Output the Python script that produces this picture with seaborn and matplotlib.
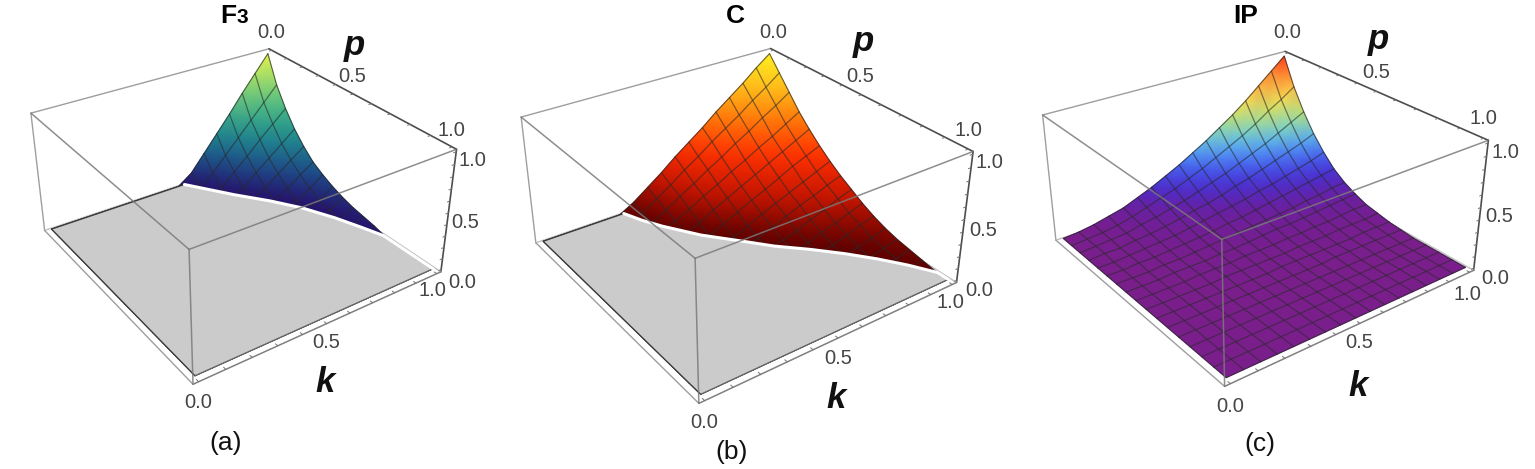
import numpy as np
import matplotlib
matplotlib.use('Agg')
import matplotlib.pyplot as plt
import seaborn as sns
from mpl_toolkits.mplot3d import proj3d

# mesh nodes, 16 cells per axis as in the reference
K_GRID = [i/16 for i in range(17)]
P_GRID = [i/16 for i in range(17)]
TICKS = [0, .1, .2, .3, .4, .5, .6, .7, .8, .9, 1]
LO, HI = -0.02, 1.02   # plot range padding

# heights, in hundredths; rows are p, columns are k
F3_Z = [
    [0, 0, 0, 0, 0, 0, 0, 0, 0, 0, 9, 24, 39, 54, 70, 85, 100],
    [0, 0, 0, 0, 0, 0, 0, 0, 0, 0, 0, 11, 24, 37, 50, 63, 76],
    [0, 0, 0, 0, 0, 0, 0, 0, 0, 0, 0, 3, 14, 25, 37, 48, 59],
    [0, 0, 0, 0, 0, 0, 0, 0, 0, 0, 0, 0, 5, 15, 25, 35, 45],
    [0, 0, 0, 0, 0, 0, 0, 0, 0, 0, 0, 0, 0, 7, 16, 25, 34],
    [0, 0, 0, 0, 0, 0, 0, 0, 0, 0, 0, 0, 0, 0, 8, 17, 25],
    [0, 0, 0, 0, 0, 0, 0, 0, 0, 0, 0, 0, 0, 0, 2, 10, 19],
    [0, 0, 0, 0, 0, 0, 0, 0, 0, 0, 0, 0, 0, 0, 0, 5, 14],
    [0, 0, 0, 0, 0, 0, 0, 0, 0, 0, 0, 0, 0, 0, 0, 2, 10],
    [0, 0, 0, 0, 0, 0, 0, 0, 0, 0, 0, 0, 0, 0, 0, 0, 7],
    [0, 0, 0, 0, 0, 0, 0, 0, 0, 0, 0, 0, 0, 0, 0, 0, 5],
    [0, 0, 0, 0, 0, 0, 0, 0, 0, 0, 0, 0, 0, 0, 0, 0, 3],
    [0, 0, 0, 0, 0, 0, 0, 0, 0, 0, 0, 0, 0, 0, 0, 0, 0],
    [0, 0, 0, 0, 0, 0, 0, 0, 0, 0, 0, 0, 0, 0, 0, 0, 0],
    [0, 0, 0, 0, 0, 0, 0, 0, 0, 0, 0, 0, 0, 0, 0, 0, 0],
    [0, 0, 0, 0, 0, 0, 0, 0, 0, 0, 0, 0, 0, 0, 0, 0, 0],
    [0, 0, 0, 0, 0, 0, 0, 0, 0, 0, 0, 0, 0, 0, 0, 0, 0],
]
C_Z = [
    [0, 0, 0, 0, 0, 0, 7, 16, 25, 35, 44, 53, 63, 72, 81, 91, 100],
    [0, 0, 0, 0, 0, 0, 4, 12, 20, 29, 37, 46, 54, 62, 71, 79, 88],
    [0, 0, 0, 0, 0, 0, 1, 8, 16, 23, 31, 38, 46, 53, 61, 68, 76],
    [0, 0, 0, 0, 0, 0, 0, 5, 11, 18, 24, 31, 37, 44, 50, 57, 64],
    [0, 0, 0, 0, 0, 0, 0, 0, 5, 12, 18, 24, 30, 36, 42, 48, 54],
    [0, 0, 0, 0, 0, 0, 0, 0, 0, 6, 12, 18, 23, 29, 35, 40, 45],
    [0, 0, 0, 0, 0, 0, 0, 0, 0, 1, 6, 12, 17, 22, 27, 32, 37],
    [0, 0, 0, 0, 0, 0, 0, 0, 0, 0, 2, 7, 12, 17, 21, 26, 30],
    [0, 0, 0, 0, 0, 0, 0, 0, 0, 0, 0, 2, 6, 11, 15, 20, 24],
    [0, 0, 0, 0, 0, 0, 0, 0, 0, 0, 0, 0, 2, 6, 10, 14, 18],
    [0, 0, 0, 0, 0, 0, 0, 0, 0, 0, 0, 0, 0, 2, 6, 10, 13],
    [0, 0, 0, 0, 0, 0, 0, 0, 0, 0, 0, 0, 0, 0, 2, 5, 9],
    [0, 0, 0, 0, 0, 0, 0, 0, 0, 0, 0, 0, 0, 0, 0, 3, 6],
    [0, 0, 0, 0, 0, 0, 0, 0, 0, 0, 0, 0, 0, 0, 0, 1, 4],
    [0, 0, 0, 0, 0, 0, 0, 0, 0, 0, 0, 0, 0, 0, 0, 0, 2],
    [0, 0, 0, 0, 0, 0, 0, 0, 0, 0, 0, 0, 0, 0, 0, 0, 0],
    [0, 0, 0, 0, 0, 0, 0, 0, 0, 0, 0, 0, 0, 0, 0, 0, 0],
]
IP_Z = [
    [0, 1, 3, 6, 9, 14, 19, 25, 31, 38, 45, 53, 61, 70, 80, 90, 100],
    [0, 1, 2, 4, 7, 11, 15, 19, 24, 29, 35, 41, 47, 54, 62, 69, 77],
    [0, 1, 2, 3, 6, 8, 11, 14, 18, 22, 26, 31, 36, 41, 47, 53, 59],
    [0, 1, 1, 3, 4, 6, 8, 11, 13, 16, 20, 23, 27, 31, 35, 39, 44],
    [0, 0, 1, 2, 3, 4, 6, 8, 10, 12, 14, 17, 19, 22, 25, 28, 32],
    [0, 0, 1, 1, 2, 3, 4, 5, 7, 8, 10, 12, 14, 16, 18, 20, 22],
    [0, 0, 0, 1, 1, 2, 3, 4, 5, 6, 7, 8, 9, 11, 12, 14, 15],
    [0, 0, 0, 1, 1, 1, 2, 2, 3, 4, 5, 5, 6, 7, 8, 9, 10],
    [0, 0, 0, 0, 1, 1, 1, 2, 2, 2, 3, 3, 4, 4, 5, 6, 6],
    [0, 0, 0, 0, 0, 1, 1, 1, 1, 1, 2, 2, 2, 3, 3, 3, 4],
    [0, 0, 0, 0, 0, 0, 0, 0, 1, 1, 1, 1, 1, 1, 2, 2, 2],
    [0, 0, 0, 0, 0, 0, 0, 0, 0, 0, 0, 1, 1, 1, 1, 1, 1],
    [0, 0, 0, 0, 0, 0, 0, 0, 0, 0, 0, 0, 0, 0, 0, 0, 0],
    [0, 0, 0, 0, 0, 0, 0, 0, 0, 0, 0, 0, 0, 0, 0, 0, 0],
    [0, 0, 0, 0, 0, 0, 0, 0, 0, 0, 0, 0, 0, 0, 0, 0, 0],
    [0, 0, 0, 0, 0, 0, 0, 0, 0, 0, 0, 0, 0, 0, 0, 0, 0],
    [0, 0, 0, 0, 0, 0, 0, 0, 0, 0, 0, 0, 0, 0, 0, 0, 0],
]

# where the surface meets the grey floor
F3_EDGE_K = [.59, .65, .71, .80, .87, .93, .97, 1]
F3_EDGE_P = [0, .09, .18, .30, .41, .54, .65, .74]
C_EDGE_K = [.33, .36, .40, .48, .57, .65, .74, .82, .89, .95, 1]
C_EDGE_P = [0, .08, .16, .29, .40, .50, .59, .68, .77, .86, .95]

F3_COLORS = ['#260f6b', '#1d4f8a', '#1f8e8f', '#48b886', '#9cdc6c', '#e8f24c']
C_COLORS = ['#5a0000', '#c41500', '#ff3000', '#ff7a0a', '#ffc01c', '#fff020']
IP_COLORS = ['#7a1e8c', '#6a1fa0', '#4a2fd0', '#4560f0', '#55a8f5', '#78d8c8',
             '#c0e070', '#f8dc50', '#ffb040', '#ff8030', '#ff3c18']

sns.set_theme(style='white')
plt.rcParams['font.family'] = ['Liberation Sans', 'DejaVu Sans']

W, H = 1535, 469
fig = plt.figure(figsize=(W/100, H/100), dpi=100)
ax = fig.add_axes([0, 0, 1, 1])
ax.set_xlim(0, W)
ax.set_ylim(H, 0)
ax.axis('off')

# only used for its camera
cam_fig = plt.figure()
cam = cam_fig.add_subplot(projection='3d')
cam.set_xlim(LO, HI)
cam.set_ylim(HI, LO)   # p runs the other way
cam.set_zlim(LO, HI)


def camera(elev, azim, focal, aspect_y, aspect_z, scale, tx, ty):
    cam.view_init(elev, azim)
    cam.set_proj_type('persp', focal_length=focal)
    cam.set_box_aspect((1, aspect_y, aspect_z))
    M = cam.get_proj()

    def project(k, p, z):
        k, p, z = np.broadcast_arrays(np.asarray(k, float), np.asarray(p, float), np.asarray(z, float))
        xs, ys, _ = proj3d.proj_transform(k.ravel(), p.ravel(), z.ravel(), M)
        return (scale*np.asarray(xs)+tx).reshape(k.shape), (-scale*np.asarray(ys)+ty).reshape(k.shape)
    return project


def seg(project, a, b, **kw):
    x, y = project([a[0], b[0]], [a[1], b[1]], [a[2], b[2]])
    ax.plot(x, y, solid_capstyle='round', **kw)


def draw_panel(view, z_table, colors, edge_k, edge_p, labels):
    project = camera(*view)
    Z = np.array(z_table)/100
    K, P = np.meshgrid(K_GRID, P_GRID)
    X, Y = project(K, P, Z)
    cmap = sns.blend_palette(colors, as_cmap=True)

    light = dict(color='0.62', lw=1.0)
    dark = dict(color='0.3', lw=1.2)

    # back of the box
    seg(project, (LO, LO, HI), (HI, LO, HI), zorder=1, **light)
    seg(project, (HI, LO, HI), (HI, HI, HI), zorder=1, **dark)
    seg(project, (LO, LO, LO), (LO, LO, HI), zorder=1, **light)
    seg(project, (HI, HI, LO), (HI, HI, HI), zorder=1, **dark)
    seg(project, (LO, LO, LO), (HI, LO, LO), zorder=1, color='0.75', lw=1.0)
    seg(project, (HI, LO, LO), (HI, HI, LO), zorder=1, color='0.75', lw=1.0)
    seg(project, (LO, LO, LO), (LO, HI, LO), zorder=1, **light)
    seg(project, (LO, HI, LO), (HI, HI, LO), zorder=1, color='0.5', lw=1.1)

    # ticks on the three drawn axes
    for t in TICKS:
        seg(project, (HI, t, HI), (HI-.012, t, HI), zorder=1, color='0.45', lw=.7)
        seg(project, (t, HI, LO), (t, HI-.012, LO), zorder=1, color='0.45', lw=.7)
        seg(project, (HI, HI, t), (HI-.012, HI, t), zorder=1, color='0.45', lw=.7)

    ax.pcolormesh(X, Y, Z, shading='gouraud', cmap=cmap, vmin=0, vmax=1, zorder=2, rasterized=True)
    mesh = dict(color='#2a2a2a', lw=.9, alpha=.58, zorder=3)
    for i in range(1, 16):
        ax.plot(X[i, :], Y[i, :], **mesh)
        ax.plot(X[:, i], Y[:, i], **mesh)
    rim = dict(color='#2a2a2a', lw=.8, alpha=.7, zorder=3)
    ax.plot(X[0, :], Y[0, :], **rim)
    ax.plot(X[:, -1], Y[:, -1], **rim)
    ax.plot(X[-1, :], Y[-1, :], **rim)
    ax.plot(X[:, 0], Y[:, 0], **rim)

    # grey floor over the part where the height is zero
    if edge_k is not None:
        fk = [0, 0, 1] + list(edge_k[::-1])
        fp = [0, 1, 1] + list(edge_p[::-1])
        fx, fy = project(fk, fp, np.zeros(len(fk)))
        ax.fill(fx, fy, facecolor='#cbcbcb', edgecolor='none', zorder=4)
        ox, oy = project([edge_k[0], 0, 0], [0, 0, 1], np.zeros(3))
        ax.plot(ox, oy, color='#3a3a3a', lw=.9, zorder=5)
        ox, oy = project([0, 1], [1, 1], np.zeros(2))
        ax.plot(ox, oy, color='#666666', lw=.9, zorder=5)
        ex, ey = project(list(edge_k) + [1], list(edge_p) + [1], np.zeros(len(edge_k)+1))
        ax.plot(ex, ey, color='white', lw=2.2, zorder=5)

    # front of the box, drawn over the surface
    front = dict(color='#7a7a7a', lw=1.1, alpha=.85, zorder=6)
    seg(project, (LO, LO, HI), (LO, HI, HI), **front)
    seg(project, (LO, HI, HI), (HI, HI, HI), **front)
    seg(project, (LO, HI, LO), (LO, HI, HI), **front)

    tick_style = dict(ha='center', va='center', color='0.27', fontsize=14.5)
    for x, y, s in labels['ticks']:
        ax.text(x, y, s, **tick_style)
    for x, y, s in labels['axes']:
        ax.text(x, y, s, ha='center', va='center', color='#111111', fontsize=25, style='italic', weight='bold')
    for x, y, s, size in labels['title']:
        ax.text(x, y, s, ha='center', va='baseline', color='black', fontsize=size, weight='bold')
    x, y, s = labels['tag']
    ax.text(x, y, s, ha='center', va='center', color='#111111', fontsize=19)


draw_panel((30.612, -124.577, .43, 1.005, .473, 2306.81, 236.4, 192.67), F3_Z, F3_COLORS, F3_EDGE_K, F3_EDGE_P, dict(
    ticks=[(271, 33, '0.0'), (352, 76, '0.5'), (451, 130, '1.0'), (472, 161, '1.0'), (465, 223, '0.5'),
           (462, 282, '0.0'), (432, 291, '1.0'), (326, 343, '0.5'), (198, 402, '0.0')],
    axes=[(354, 45, 'p'), (325, 382, 'k')], title=[(228, 23, 'F', 19), (242, 23, '3', 15)], tag=(226, 443, '(a)')))
draw_panel((30.187, -125.596, .426, 1.009, .477, 2444.33, 739.92, 200.19), C_Z, C_COLORS, C_EDGE_K, C_EDGE_P, dict(
    ticks=[(773, 32, '0.0'), (860, 76, '0.5'), (968, 130, '1.0'), (989, 163, '1.0'), (983, 230, '0.5'),
           (979, 291, '0.0'), (950, 303, '1.0'), (838, 358, '0.5'), (704, 423, '0.0')],
    axes=[(863, 42, 'p'), (836, 398, 'k')], title=[(735, 23, 'C', 19)], tag=(732, 452, '(b)')))
draw_panel((27.585, -127.119, .427, 1.003, .468, 2404.92, 1259.5, 193.15), IP_Z, IP_COLORS, None, None, dict(
    ticks=[(1287, 33, '0.0'), (1376, 73, '0.5'), (1483, 118, '1.0'), (1505, 153, '1.0'), (1499, 217, '0.5'),
           (1495, 279, '0.0'), (1467, 294, '1.0'), (1359, 343, '0.5'), (1230, 407, '0.0')],
    axes=[(1378, 40, 'p'), (1358, 387, 'k')], title=[(1246, 23, 'IP', 19)], tag=(1260, 444, '(c)')))

fig.savefig('out.png', dpi=100)
